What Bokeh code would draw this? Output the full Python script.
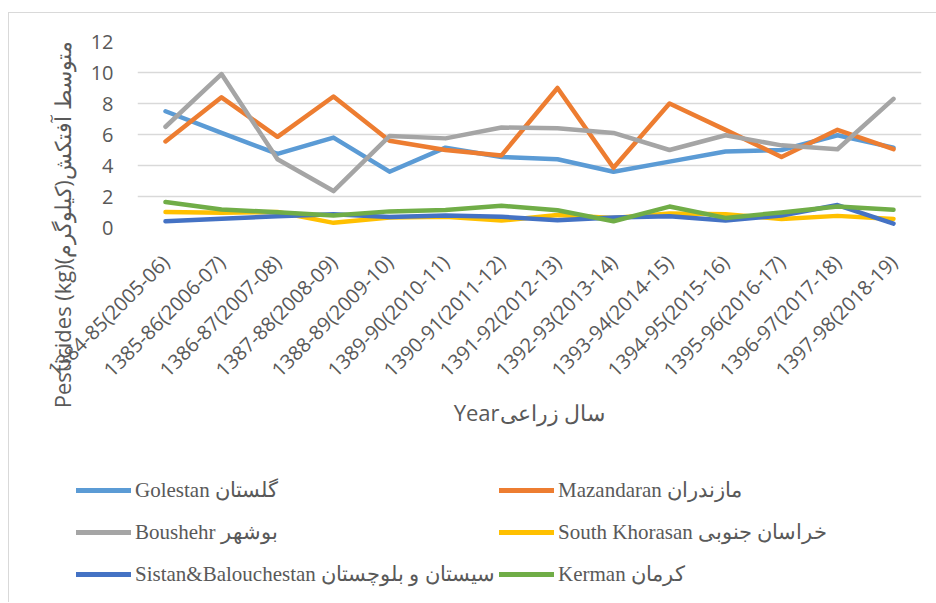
import math
from bokeh.plotting import figure
from bokeh.layouts import column, row
from bokeh.models import (FactorRange, Range1d, FixedTicker, Legend, LegendItem, Title)
from bokeh.embed import file_html
from bokeh.resources import INLINE

# ---------------- data ----------------
years = ["1384-85(2005-06)", "1385-86(2006-07)", "1386-87(2007-08)", "1387-88(2008-09)",
         "1388-89(2009-10)", "1389-90(2010-11)", "1390-91(2011-12)", "1391-92(2012-13)",
         "1392-93(2013-14)", "1393-94(2014-15)", "1394-95(2015-16)", "1395-96(2016-17)",
         "1396-97(2017-18)", "1397-98(2018-19)"]

golestan = [7.5, 6.1, 4.75, 5.8, 3.6, 5.15, 4.55, 4.4, 3.6, 4.25, 4.9, 5.0, 5.95, 5.15]
mazandaran = [5.55, 8.4, 5.85, 8.45, 5.6, 5.0, 4.65, 9.0, 3.85, 8.0, 6.3, 4.55, 6.3, 5.05]
boushehr = [6.5, 9.9, 4.4, 2.35, 5.9, 5.75, 6.45, 6.4, 6.1, 5.0, 5.95, 5.3, 5.05, 8.3]
south_khorasan = [1.0, 0.95, 1.0, 0.3, 0.65, 0.7, 0.45, 0.8, 0.62, 0.9, 0.85, 0.55, 0.75, 0.55]
sistan = [0.4, 0.56, 0.73, 0.86, 0.68, 0.77, 0.69, 0.47, 0.64, 0.73, 0.45, 0.77, 1.45, 0.25]
kerman = [1.65, 1.16, 0.99, 0.77, 1.04, 1.13, 1.4, 1.11, 0.4, 1.35, 0.62, 0.97, 1.36, 1.14]

series_labels = ["Golestan گلستان", "Mazandaran مازندران", "Boushehr بوشهر",
                 "South Khorasan خراسان جنوبی", "Sistan&Balouchestan سیستان و بلوچستان",
                 "Kerman کرمان"]
series_colors = ["#5B9BD5", "#ED7D31", "#A5A5A5", "#FFC000", "#4472C4", "#70AD47"]
series_values = [golestan, mazandaran, boushehr, south_khorasan, sistan, kerman]

y_ticks = [0, 2, 4, 6, 8, 10, 12]
x_title = "Year" + "سال زراعی"
y_title = "Pesticides (kg)" + "متوسط آفتکش(کیلوگرم)" + "\u200f"

TEXT = "#595959"
GRID = "#D9D9D9"

TOP_H = 450
LEG_H = 139

# ---------------- main chart ----------------
p = figure(x_range=FactorRange(*years, range_padding=0), y_range=Range1d(0, 12),
           width=927, height=TOP_H, output_backend="svg", toolbar_location=None,
           min_border_left=128, min_border_right=15, min_border_top=28,
           min_border_bottom=TOP_H - 28 - 186)
p.outline_line_color = None

for vals, col in zip(series_values, series_colors):
    p.line(years, vals, line_color=col, line_width=4.5,
           line_cap="round", line_join="round")

p.xgrid.grid_line_color = None
p.ygrid.grid_line_color = GRID
p.ygrid.grid_line_width = 1.3
p.yaxis.ticker = FixedTicker(ticks=y_ticks)
for ax in (p.xaxis[0], p.yaxis[0]):
    ax.axis_line_color = None
    ax.major_tick_line_color = None
    ax.minor_tick_line_color = None
    ax.major_tick_out = 0
    ax.major_tick_in = 0
    ax.major_label_text_color = TEXT
    ax.major_label_text_font = "Open Sans"
    ax.major_label_text_font_size = "20px"

p.yaxis.major_label_standoff = 24
p.xaxis.major_label_orientation = math.pi / 4
p.xaxis.major_label_standoff = 31
p.xaxis.axis_label = x_title
p.xaxis.axis_label_text_font = "Open Sans"
p.xaxis.axis_label_text_font_size = "22px"
p.xaxis.axis_label_text_font_style = "normal"
p.xaxis.axis_label_text_color = TEXT
p.xaxis.axis_label_standoff = 2

ytitle = Title(text=y_title, align="right", offset=0, vertical_align="middle",
               standoff=20, text_font="Open Sans", text_font_size="22px",
               text_font_style="normal", text_color=TEXT)
p.add_layout(ytitle, "left")

# ---------------- legend panel ----------------
lf = figure(width=927, height=LEG_H, x_range=Range1d(0, 1), y_range=Range1d(-200, -199),
            output_backend="svg", toolbar_location=None, min_border=0)
lf.outline_line_color = None
lf.axis.visible = False
lf.grid.visible = False
# the same series, drawn outside this panel's visible range: only their legend keys show
leg_renderers = [lf.line(x=list(range(len(vals))), y=vals, line_color=c, line_width=5,
                         line_cap="round")
                 for vals, c in zip(series_values, series_colors)]


def make_legend(idx, loc):
    items = [LegendItem(label=series_labels[i], renderers=[leg_renderers[i]]) for i in idx]
    lg = Legend(items=items, location=loc, orientation="vertical")
    lg.label_text_font = "Liberation Serif"
    lg.label_text_font_size = "21px"
    lg.label_text_color = TEXT
    lg.glyph_width = 55
    lg.glyph_height = 30
    lg.label_height = 30
    lg.label_standoff = 4
    lg.spacing = 12
    lg.padding = 0
    lg.margin = 0
    lg.border_line_color = None
    lg.background_fill_alpha = 0
    return lg


lf.add_layout(make_legend([0, 2, 4], (67, 13)))
lf.add_layout(make_legend([1, 3, 5], (490, 13)))

layout = column(row(p), lf)
layout.styles = {"margin-left": "8px", "margin-top": "12px",
                 "border-left": "1px solid #D9D9D9", "border-top": "1px solid #D9D9D9"}

open("out.html", "w").write(file_html(layout, INLINE))
